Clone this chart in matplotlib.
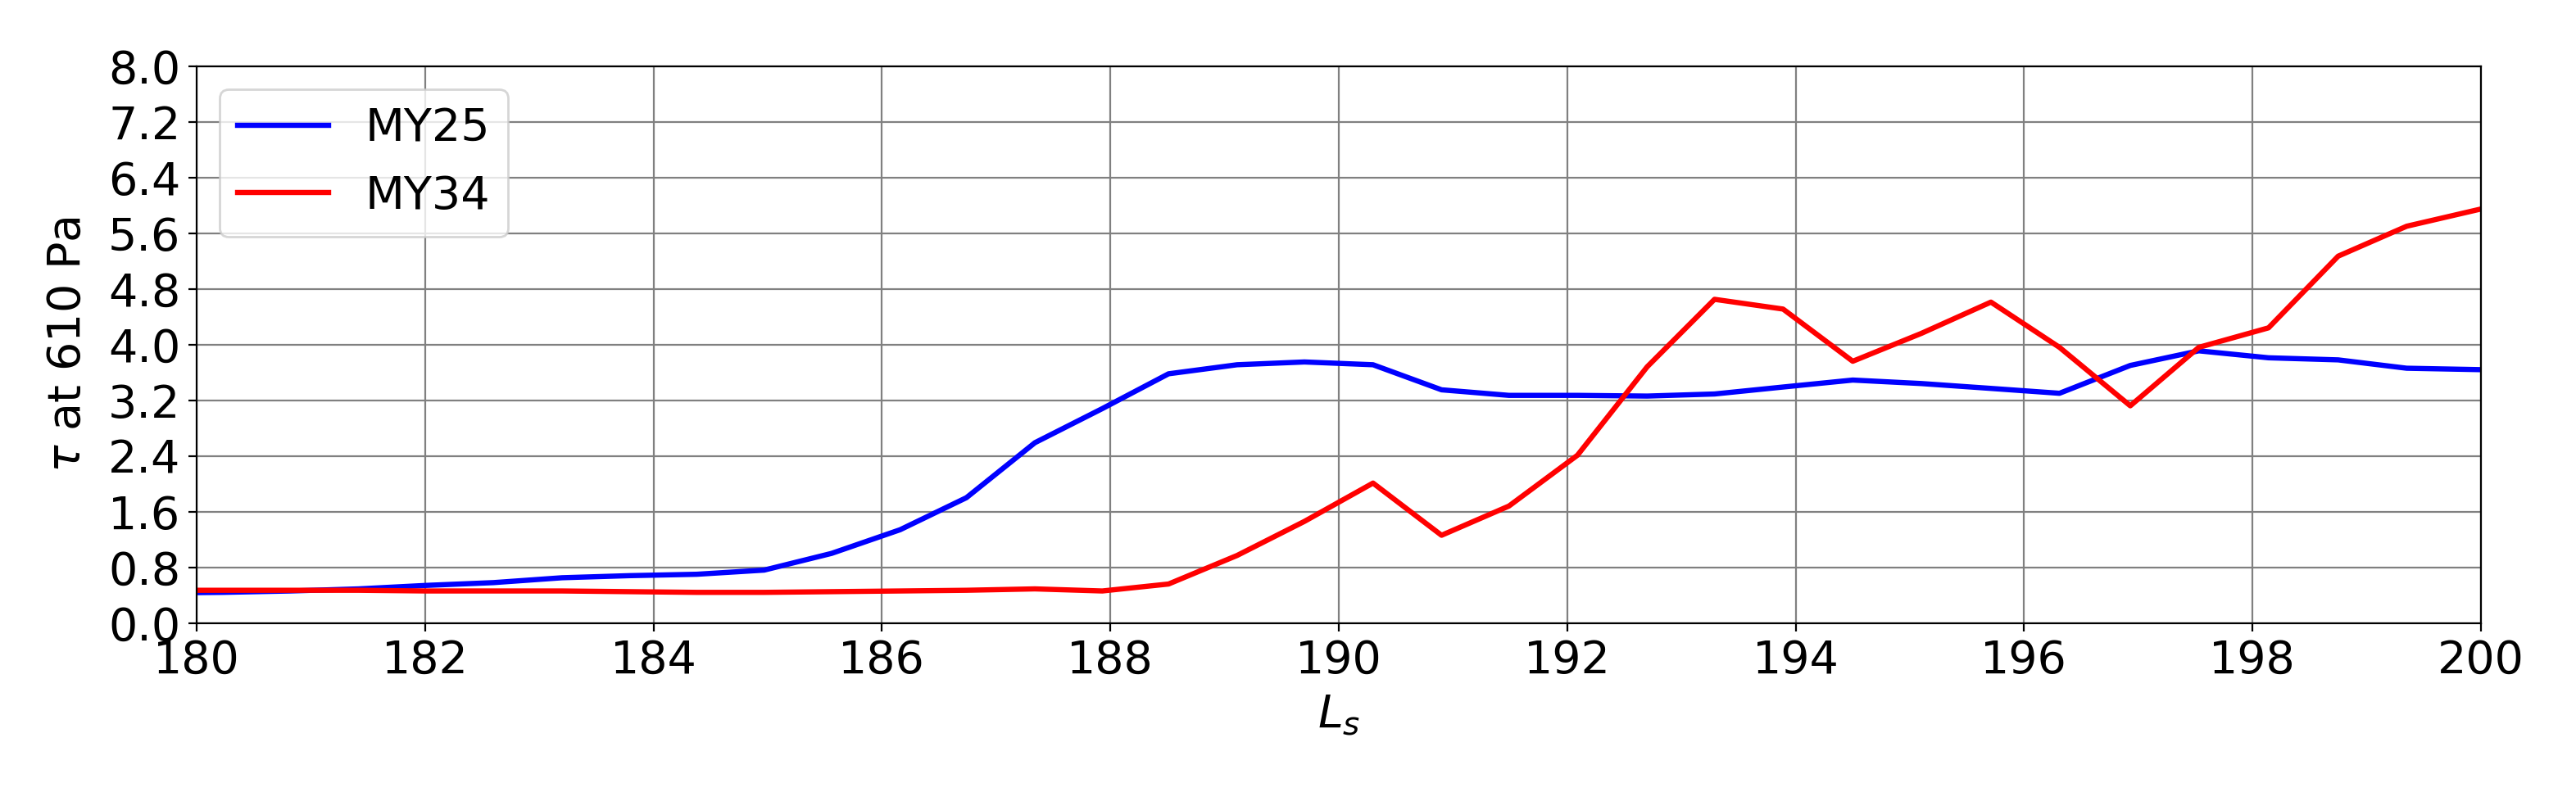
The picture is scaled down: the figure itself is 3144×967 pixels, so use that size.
import numpy as np
import matplotlib
matplotlib.use("Agg")
import matplotlib.pyplot as plt

# ---------------------------------------------------------------- data
ls = [179.64, 180.23, 180.82, 181.42, 182.01, 182.60, 183.20, 183.79, 184.38,
      184.97, 185.56, 186.16, 186.74, 187.34, 187.93, 188.51, 189.11, 189.70,
      190.30, 190.90, 191.49, 192.09, 192.70, 193.29, 193.89, 194.50, 195.10,
      195.71, 196.31, 196.93, 197.53, 198.14, 198.75, 199.35, 199.98]

tau_my25 = [0.43, 0.44, 0.46, 0.49, 0.54, 0.58, 0.65, 0.68, 0.70,
            0.76, 1.00, 1.34, 1.80, 2.59, 3.08, 3.58, 3.71, 3.75,
            3.71, 3.35, 3.27, 3.27, 3.26, 3.29, 3.39, 3.49, 3.44,
            3.37, 3.30, 3.70, 3.91, 3.81, 3.78, 3.66, 3.64]

tau_my34 = [0.47, 0.47, 0.47, 0.47, 0.46, 0.46, 0.46, 0.45, 0.44,
            0.44, 0.45, 0.46, 0.47, 0.49, 0.46, 0.56, 0.97, 1.46,
            2.01, 1.26, 1.68, 2.41, 3.68, 4.65, 4.51, 3.76, 4.16,
            4.61, 3.96, 3.12, 3.96, 4.24, 5.27, 5.70, 5.94]

series_labels = ["MY25", "MY34"]
series_colors = ["blue", "red"]

x_ticks = [180, 182, 184, 186, 188, 190, 192, 194, 196, 198, 200]
y_ticks = [0.0, 0.8, 1.6, 2.4, 3.2, 4.0, 4.8, 5.6, 6.4, 7.2, 8.0]

# ---------------------------------------------------------------- figure
plt.rcParams.update({"font.size": 20, "font.family": "DejaVu Sans"})

fig = plt.figure(figsize=(15.72, 4.835), dpi=200)
ax = fig.add_axes([0.0763, 0.2134, 0.9631 - 0.0763, 0.9165 - 0.2134])

for y, lab, col in zip([tau_my25, tau_my34], series_labels, series_colors):
    ax.plot(ls, y, color=col, lw=2.3, label=lab)

ax.set_xlim(180, 200)
ax.set_ylim(0, 8)
ax.set_xticks(x_ticks)
ax.set_yticks(y_ticks)
ax.set_yticklabels([f"{v:.1f}" for v in y_ticks])
ax.grid(True, color="gray", lw=0.8)
ax.set_axisbelow(True)

ax.set_xlabel(r"$L_s$")
ax.set_ylabel(r"$\tau$ at 610 Pa", labelpad=8)
ax.legend(loc="upper left")

fig.savefig("out.png", dpi=200)
